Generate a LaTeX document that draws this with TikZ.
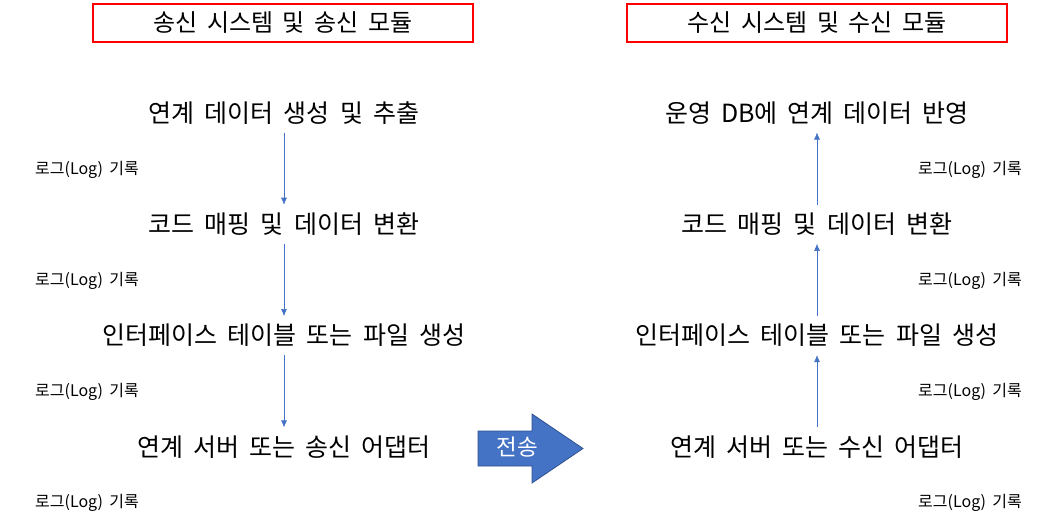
\documentclass[tikz,border=0pt]{standalone}
\usepackage{fontspec}
\setmainfont{Noto Sans CJK KR}[WordSpace=1.8]
\usepackage{tikz}
\usetikzlibrary{arrows.meta}

\definecolor{flowblue}{HTML}{4472C4}
\definecolor{edgeblue}{HTML}{2F528F}
\definecolor{boxred}{HTML}{FF0000}

\begin{document}
\begin{tikzpicture}[x=1pt, y=-1pt, node distance={111.3pt},
    main/.style = {font=\fontsize{25}{29}\selectfont, inner xsep=0pt, inner ysep=8pt},
    title/.style = {draw=boxred, line width=1.2pt, minimum width=380pt, minimum height=38pt, font=\fontsize{24}{28}\selectfont},
    logtext/.style = {font=\fontsize{16}{19}\selectfont, inner sep=0pt},
    flow/.style = {-{Latex[length=7pt,width=6pt]}, color=flowblue, line width=0.6pt}]
            \useasboundingbox (0,0) rectangle (1057,524);

            % titles
            \node[title] (stitle) at (283,23) {송신 시스템 및 송신 모듈};
            \node[title] (rtitle) at (817,23) {수신 시스템 및 수신 모듈};

            % sending side
            \node[main] (s1) at (284,113) {연계 데이터 생성 및 추출};
            \node[main] (s2) [below of=s1] {코드 매핑 및 데이터 변환};
            \node[main] (s3) [below of=s2] {인터페이스 테이블 또는 파일 생성};
            \node[main] (s4) [below of=s3] {연계 서버 또는 송신 어댑터};

            \path[flow] (s1) edge (s2);
            \path[flow] (s2) edge (s3);
            \path[flow] (s3) edge (s4);

            % receiving side
            \node[main] (r1) at (817,113) {운영 DB에 연계 데이터 반영};
            \node[main] (r2) [below of=r1] {코드 매핑 및 데이터 변환};
            \node[main] (r3) [below of=r2] {인터페이스 테이블 또는 파일 생성};
            \node[main] (r4) [below of=r3] {연계 서버 또는 수신 어댑터};

            \path[flow] (r4) edge (r3);
            \path[flow] (r3) edge (r2);
            \path[flow] (r2) edge (r1);

            % log labels
            \node[logtext] (sl1) at (87,170) {로그(Log) 기록};
            \node[logtext] (sl2) at (87,281) {로그(Log) 기록};
            \node[logtext] (sl3) at (87,392) {로그(Log) 기록};
            \node[logtext] (sl4) at (87,503) {로그(Log) 기록};
            \node[logtext] (rl1) at (970,170) {로그(Log) 기록};
            \node[logtext] (rl2) at (970,281) {로그(Log) 기록};
            \node[logtext] (rl3) at (970,392) {로그(Log) 기록};
            \node[logtext] (rl4) at (970,503) {로그(Log) 기록};

            % transfer arrow
            \draw[fill=flowblue, draw=edgeblue, line width=0.8pt] (478,431) -- (532,431) -- (532,414) -- (583,448.5)
                -- (532,483) -- (532,466) -- (478,466) -- cycle;
            \node[font=\fontsize{22.5}{26}\selectfont, text=white] (send) at (517,447) {전송};
        \end{tikzpicture}
\end{document}
